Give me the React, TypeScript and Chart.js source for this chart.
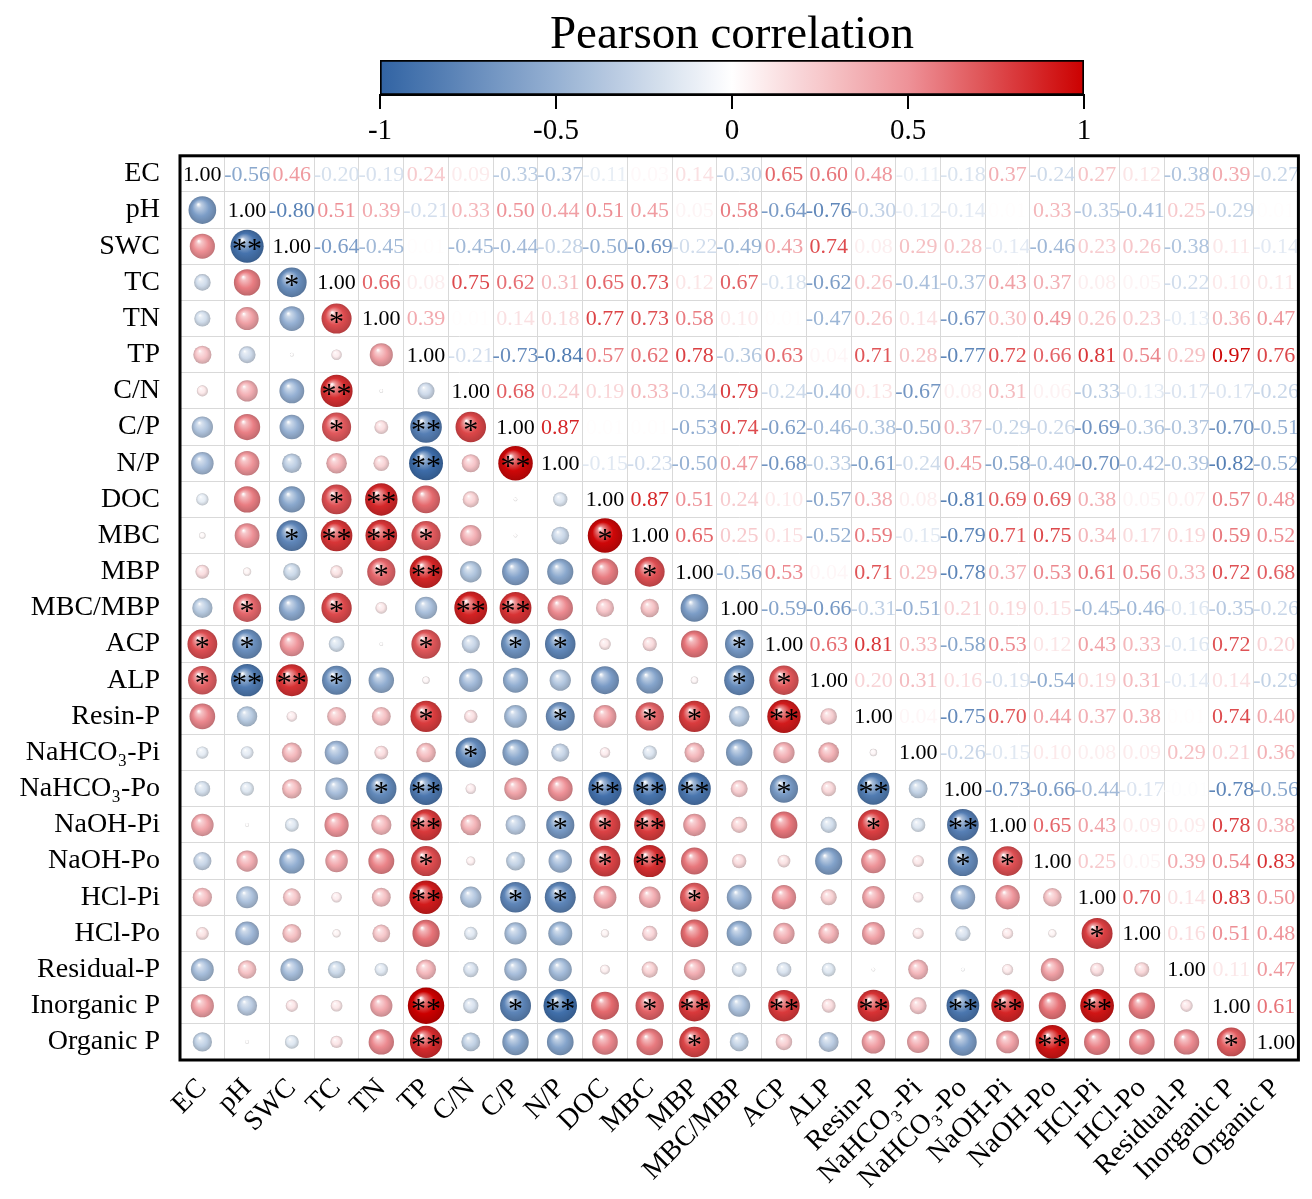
import { useEffect, useRef } from 'react';
import { Chart, registerables } from 'chart.js';

Chart.register(...registerables);

const FONT = '"Liberation Serif", "Times New Roman", serif';

// Variables (rows top-to-bottom, columns left-to-right)
const variables = [
  'EC', 'pH', 'SWC', 'TC', 'TN', 'TP', 'C/N', 'C/P', 'N/P', 'DOC', 'MBC', 'MBP', 'MBC/MBP',
  'ACP', 'ALP', 'Resin-P', 'NaHCO₃-Pi', 'NaHCO₃-Po', 'NaOH-Pi', 'NaOH-Po', 'HCl-Pi', 'HCl-Po',
  'Residual-P', 'Inorganic P', 'Organic P',
];

// Pearson r, one row each, starting at the diagonal and running to the right
const rEC = [1.00, -0.56, 0.46, -0.20, -0.19, 0.24, 0.09, -0.33, -0.37, -0.11, 0.03, 0.14, -0.30, 0.65, 0.60, 0.48, -0.11, -0.18, 0.37, -0.24, 0.27, 0.12, -0.38, 0.39, -0.27];
const rPH = [1.00, -0.80, 0.51, 0.39, -0.21, 0.33, 0.50, 0.44, 0.51, 0.45, 0.05, 0.58, -0.64, -0.76, -0.30, -0.12, -0.14, 0.01, 0.33, -0.35, -0.41, 0.25, -0.29, 0.01];
const rSWC = [1.00, -0.64, -0.45, 0.01, -0.45, -0.44, -0.28, -0.50, -0.69, -0.22, -0.49, 0.43, 0.74, 0.08, 0.29, 0.28, -0.14, -0.46, 0.23, 0.26, -0.38, 0.11, -0.14];
const rTC = [1.00, 0.66, 0.08, 0.75, 0.62, 0.31, 0.65, 0.73, 0.12, 0.67, -0.18, -0.62, 0.26, -0.41, -0.37, 0.43, 0.37, 0.08, 0.05, -0.22, 0.10, 0.11];
const rTN = [1.00, 0.39, 0.01, 0.14, 0.18, 0.77, 0.73, 0.58, 0.10, 0.01, -0.47, 0.26, 0.14, -0.67, 0.30, 0.49, 0.26, 0.23, -0.13, 0.36, 0.47];
const rTP = [1.00, -0.21, -0.73, -0.84, 0.57, 0.62, 0.78, -0.36, 0.63, 0.04, 0.71, 0.28, -0.77, 0.72, 0.66, 0.81, 0.54, 0.29, 0.97, 0.76];
const rCN = [1.00, 0.68, 0.24, 0.19, 0.33, -0.34, 0.79, -0.24, -0.40, 0.13, -0.67, 0.08, 0.31, 0.06, -0.33, -0.13, -0.17, -0.17, -0.26];
const rCP = [1.00, 0.87, 0.01, 0.01, -0.53, 0.74, -0.62, -0.46, -0.38, -0.50, 0.37, -0.29, -0.26, -0.69, -0.36, -0.37, -0.70, -0.51];
const rNP = [1.00, -0.15, -0.23, -0.50, 0.47, -0.68, -0.33, -0.61, -0.24, 0.45, -0.58, -0.40, -0.70, -0.42, -0.39, -0.82, -0.52];
const rDOC = [1.00, 0.87, 0.51, 0.24, 0.10, -0.57, 0.38, 0.08, -0.81, 0.69, 0.69, 0.38, 0.05, 0.07, 0.57, 0.48];
const rMBC = [1.00, 0.65, 0.25, 0.15, -0.52, 0.59, -0.15, -0.79, 0.71, 0.75, 0.34, 0.17, 0.19, 0.59, 0.52];
const rMBP = [1.00, -0.56, 0.53, 0.04, 0.71, 0.29, -0.78, 0.37, 0.53, 0.61, 0.56, 0.33, 0.72, 0.68];
const rMBCMBP = [1.00, -0.59, -0.66, -0.31, -0.51, 0.21, 0.19, 0.15, -0.45, -0.46, -0.16, -0.35, -0.26];
const rACP = [1.00, 0.63, 0.81, 0.33, -0.58, 0.53, 0.12, 0.43, 0.33, -0.16, 0.72, 0.20];
const rALP = [1.00, 0.20, 0.31, 0.16, -0.19, -0.54, 0.19, 0.31, -0.14, 0.14, -0.29];
const rResinP = [1.00, 0.04, -0.75, 0.70, 0.44, 0.37, 0.38, 0.01, 0.74, 0.40];
const rNaHCO3Pi = [1.00, -0.26, -0.15, 0.10, 0.08, 0.09, 0.29, 0.21, 0.36];
const rNaHCO3Po = [1.00, -0.73, -0.66, -0.44, -0.17, -0.01, -0.78, -0.56];
const rNaOHPi = [1.00, 0.65, 0.43, 0.09, 0.09, 0.78, 0.38];
const rNaOHPo = [1.00, 0.25, 0.05, 0.39, 0.54, 0.83];
const rHClPi = [1.00, 0.70, 0.14, 0.83, 0.50];
const rHClPo = [1.00, 0.16, 0.51, 0.48];
const rResidualP = [1.00, 0.11, 0.47];
const rInorganicP = [1.00, 0.61];
const rOrganicP = [1.00];

const upperRows = [
  rEC, rPH, rSWC, rTC, rTN, rTP, rCN, rCP, rNP, rDOC, rMBC, rMBP, rMBCMBP, rACP, rALP,
  rResinP, rNaHCO3Pi, rNaHCO3Po, rNaOHPi, rNaOHPo, rHClPi, rHClPo, rResidualP, rInorganicP, rOrganicP,
];

// Significance marks in the lower triangle: [row, column]
const oneStar = [
  ['TC', 'SWC'], ['TN', 'TC'], ['C/P', 'TC'], ['C/P', 'C/N'], ['DOC', 'TC'],
  ['MBC', 'SWC'], ['MBC', 'TP'], ['MBC', 'DOC'], ['MBP', 'TN'], ['MBP', 'MBC'],
  ['MBC/MBP', 'pH'], ['MBC/MBP', 'TC'],
  ['ACP', 'EC'], ['ACP', 'pH'], ['ACP', 'TP'], ['ACP', 'C/P'], ['ACP', 'N/P'], ['ACP', 'MBC/MBP'],
  ['ALP', 'EC'], ['ALP', 'TC'], ['ALP', 'MBC/MBP'], ['ALP', 'ACP'],
  ['Resin-P', 'TP'], ['Resin-P', 'N/P'], ['Resin-P', 'MBC'], ['Resin-P', 'MBP'],
  ['NaHCO₃-Pi', 'C/N'], ['NaHCO₃-Po', 'TN'], ['NaHCO₃-Po', 'ACP'],
  ['NaOH-Pi', 'N/P'], ['NaOH-Pi', 'DOC'], ['NaOH-Pi', 'Resin-P'],
  ['NaOH-Po', 'TP'], ['NaOH-Po', 'DOC'], ['NaOH-Po', 'NaHCO₃-Po'], ['NaOH-Po', 'NaOH-Pi'],
  ['HCl-Pi', 'C/P'], ['HCl-Pi', 'N/P'], ['HCl-Pi', 'MBP'], ['HCl-Po', 'HCl-Pi'],
  ['Inorganic P', 'C/P'], ['Inorganic P', 'MBC'], ['Organic P', 'MBP'], ['Organic P', 'Inorganic P'],
];
const twoStars = [
  ['SWC', 'pH'], ['C/N', 'TC'], ['C/P', 'TP'], ['N/P', 'TP'], ['N/P', 'C/P'], ['DOC', 'TN'],
  ['MBC', 'TC'], ['MBC', 'TN'], ['MBP', 'TP'], ['MBC/MBP', 'C/N'], ['MBC/MBP', 'C/P'],
  ['ALP', 'pH'], ['ALP', 'SWC'], ['Resin-P', 'ACP'],
  ['NaHCO₃-Po', 'TP'], ['NaHCO₃-Po', 'DOC'], ['NaHCO₃-Po', 'MBC'], ['NaHCO₃-Po', 'MBP'], ['NaHCO₃-Po', 'Resin-P'],
  ['NaOH-Pi', 'TP'], ['NaOH-Pi', 'MBC'], ['NaOH-Pi', 'NaHCO₃-Po'], ['NaOH-Po', 'MBC'], ['HCl-Pi', 'TP'],
  ['Inorganic P', 'TP'], ['Inorganic P', 'N/P'], ['Inorganic P', 'MBP'], ['Inorganic P', 'ACP'],
  ['Inorganic P', 'Resin-P'], ['Inorganic P', 'NaHCO₃-Po'], ['Inorganic P', 'NaOH-Pi'], ['Inorganic P', 'HCl-Pi'],
  ['Organic P', 'TP'], ['Organic P', 'NaOH-Po'],
];

const colorbarTicks = [-1, -0.5, 0, 0.5, 1];

// Diverging palette: blue – white – red
const paletteStops: [number, number[]][] = [
  [-1, [49, 99, 163]],
  [-0.5, [150, 177, 211]],
  [0, [255, 255, 255]],
  [0.5, [238, 146, 152]],
  [1, [204, 0, 0]],
];

function palette(v: number): number[] {
  const x = Math.max(-1, Math.min(1, v));
  for (let k = 0; k < paletteStops.length - 1; k++) {
    const [a, ca] = paletteStops[k];
    const [b, cb] = paletteStops[k + 1];
    if (x >= a && x <= b) {
      const t = (x - a) / (b - a);
      return ca.map((c, i) => Math.round(c + (cb[i] - c) * t));
    }
  }
  return [255, 255, 255];
}
const rgb = (c: number[]) => `rgb(${c[0]},${c[1]},${c[2]})`;
const tint = (c: number[], f: number) => c.map((x) => Math.round(x + (255 - x) * f));
const shade = (c: number[], f: number) => c.map((x) => Math.round(x * f));

function corr(i: number, j: number): number {
  const a = Math.min(i, j);
  const b = Math.max(i, j);
  return upperRows[a][b - a];
}

const bubbleRadius = (v: number) => 18.5 * Math.sqrt(Math.abs(v));

function colorbarConfig(): any {
  return {
    type: 'bar',
    data: {
      labels: ['r'],
      datasets: [
        {
          data: [[colorbarTicks[0], colorbarTicks[colorbarTicks.length - 1]]],
          backgroundColor: (c: any) => {
            const area = c.chart.chartArea;
            if (!area || !isFinite(area.left) || !isFinite(area.right)) return rgb(palette(0));
            const g = c.chart.ctx.createLinearGradient(area.left, 0, area.right, 0);
            for (let k = 0; k <= 40; k++) {
              const v = -1 + k / 20;
              g.addColorStop(k / 40, rgb(palette(v)));
            }
            return g;
          },
          borderColor: '#000',
          borderWidth: 2,
          borderSkipped: false,
          barPercentage: 1,
          categoryPercentage: 1,
        },
      ],
    },
    options: {
      indexAxis: 'y',
      responsive: false,
      animation: false,
      events: [],
      layout: { autoPadding: false, padding: { left: 380, right: 228, top: 0, bottom: 2 } },
      plugins: {
        legend: { display: false },
        tooltip: { enabled: false },
        title: {
          display: true,
          text: 'Pearson correlation',
          color: '#000',
          font: { family: FONT, size: 47, weight: 'normal', lineHeight: 1 },
          padding: { top: 12, bottom: 1 },
        },
      },
      scales: {
        x: {
          type: 'linear',
          min: -1,
          max: 1,
          afterBuildTicks: (s: any) => {
            s.ticks = colorbarTicks.map((v) => ({ value: v }));
          },
          ticks: {
            color: '#000',
            font: { family: FONT, size: 29 },
            padding: 5,
            callback: (v: any) => String(v),
          },
          grid: { drawOnChartArea: false, drawTicks: true, tickLength: 14, color: '#000', lineWidth: 2 },
          border: { display: true, color: '#000', width: 2 },
          afterFit: (s: any) => {
            s.height = 53;
          },
        },
        y: { display: false },
      },
    },
  };
}

const matrixText = {
  id: 'matrixText',
  afterDatasetsDraw(chart: any) {
    const { ctx, chartArea } = chart;
    const xs = chart.scales.x;
    const ys = chart.scales.y;
    ctx.save();
    // correlation values in the upper triangle
    ctx.font = `22px ${FONT}`;
    ctx.textAlign = 'center';
    ctx.textBaseline = 'middle';
    for (let i = 0; i < variables.length; i++) {
      for (let j = i; j < variables.length; j++) {
        const v = corr(i, j);
        ctx.fillStyle = i === j ? '#000' : rgb(palette(v));
        ctx.fillText(v.toFixed(2), xs.getPixelForValue(j), ys.getPixelForValue(i) + 1);
      }
    }
    // significance marks
    ctx.font = `30px ${FONT}`;
    ctx.textBaseline = 'alphabetic';
    ctx.fillStyle = '#000';
    const mark = (list: string[][], s: string) => {
      list.forEach(([row, col]) => {
        const x = xs.getPixelForValue(variables.indexOf(col));
        const y = ys.getPixelForValue(variables.indexOf(row));
        ctx.fillText(s, x, y + 12);
      });
    };
    mark(oneStar, '*');
    mark(twoStars, '**');
    // frame
    ctx.strokeStyle = '#000';
    ctx.lineWidth = 3;
    ctx.strokeRect(chartArea.left, chartArea.top, chartArea.right - chartArea.left, chartArea.bottom - chartArea.top);
    ctx.restore();
  },
};

function matrixConfig(): any {
  const points: any[] = [];
  for (let i = 1; i < variables.length; i++) {
    for (let j = 0; j < i; j++) {
      points.push({ x: variables[j], y: variables[i], v: corr(i, j) });
    }
  }
  const sphere = (c: any) => {
    const v = c.raw && typeof c.raw.v === 'number' ? c.raw.v : 0;
    const base = palette(v * 1.12);
    const chart = c.chart;
    if (!c.parsed || !chart.scales || !chart.scales.x || !chart.scales.y) return rgb(base);
    const cx = chart.scales.x.getPixelForValue(c.parsed.x);
    const cy = chart.scales.y.getPixelForValue(c.parsed.y);
    const r = Math.max(bubbleRadius(v), 0.5);
    if (!isFinite(cx) || !isFinite(cy)) return rgb(base);
    const g = chart.ctx.createRadialGradient(cx - 0.3 * r, cy - 0.42 * r, 0.02 * r, cx, cy, r);
    g.addColorStop(0, 'rgb(255,255,255)');
    g.addColorStop(0.18, rgb(tint(base, 0.5)));
    g.addColorStop(0.6, rgb(base));
    g.addColorStop(0.92, rgb(shade(base, 0.86)));
    g.addColorStop(1, rgb(shade(base, 0.8)));
    return g;
  };
  const radius = (c: any) => (c.raw && typeof c.raw.v === 'number' ? bubbleRadius(c.raw.v) : 0);
  const axisCommon = {
    type: 'category',
    labels: variables,
    offset: true,
    grid: { offset: true, color: '#d9d9d9', lineWidth: 1, drawTicks: false },
    border: { display: false },
  };
  return {
    type: 'scatter',
    data: {
      datasets: [
        {
          data: points,
          pointRadius: radius,
          pointHoverRadius: radius,
          pointBackgroundColor: sphere,
          pointHoverBackgroundColor: sphere,
          pointBorderWidth: 0,
          pointBorderColor: 'rgba(0,0,0,0)',
          showLine: false,
        },
      ],
    },
    options: {
      responsive: false,
      animation: false,
      events: [],
      layout: { autoPadding: false, padding: { left: 8, right: 10, top: 36, bottom: 0 } },
      plugins: { legend: { display: false }, tooltip: { enabled: false } },
      scales: {
        x: {
          ...axisCommon,
          position: 'bottom',
          ticks: {
            color: '#000',
            autoSkip: false,
            maxRotation: 45,
            minRotation: 45,
            padding: 12,
            font: { family: FONT, size: 28 },
          },
          afterFit: (s: any) => {
            s.height = 139;
          },
        },
        y: {
          ...axisCommon,
          position: 'left',
          ticks: {
            color: '#000',
            autoSkip: false,
            padding: 20,
            font: { family: FONT, size: 28 },
          },
          afterFit: (s: any) => {
            s.width = 172;
          },
        },
      },
    },
    plugins: [matrixText],
  };
}

export default function App() {
  const barRef = useRef<HTMLCanvasElement>(null);
  const mainRef = useRef<HTMLCanvasElement>(null);

  useEffect(() => {
    document.body.style.margin = '0';
    const bar = new Chart(barRef.current as HTMLCanvasElement, colorbarConfig());
    const matrix = new Chart(mainRef.current as HTMLCanvasElement, matrixConfig());
    return () => {
      bar.destroy();
      matrix.destroy();
    };
  }, []);

  return (
    <div style={{ position: 'relative', width: 1312, height: 1199, background: '#fff', overflow: 'hidden' }}>
      <canvas ref={mainRef} width={1312} height={1080} style={{ position: 'absolute', left: 0, top: 119 }} />
      <canvas ref={barRef} width={1312} height={150} style={{ position: 'absolute', left: 0, top: 0 }} />
    </div>
  );
}
